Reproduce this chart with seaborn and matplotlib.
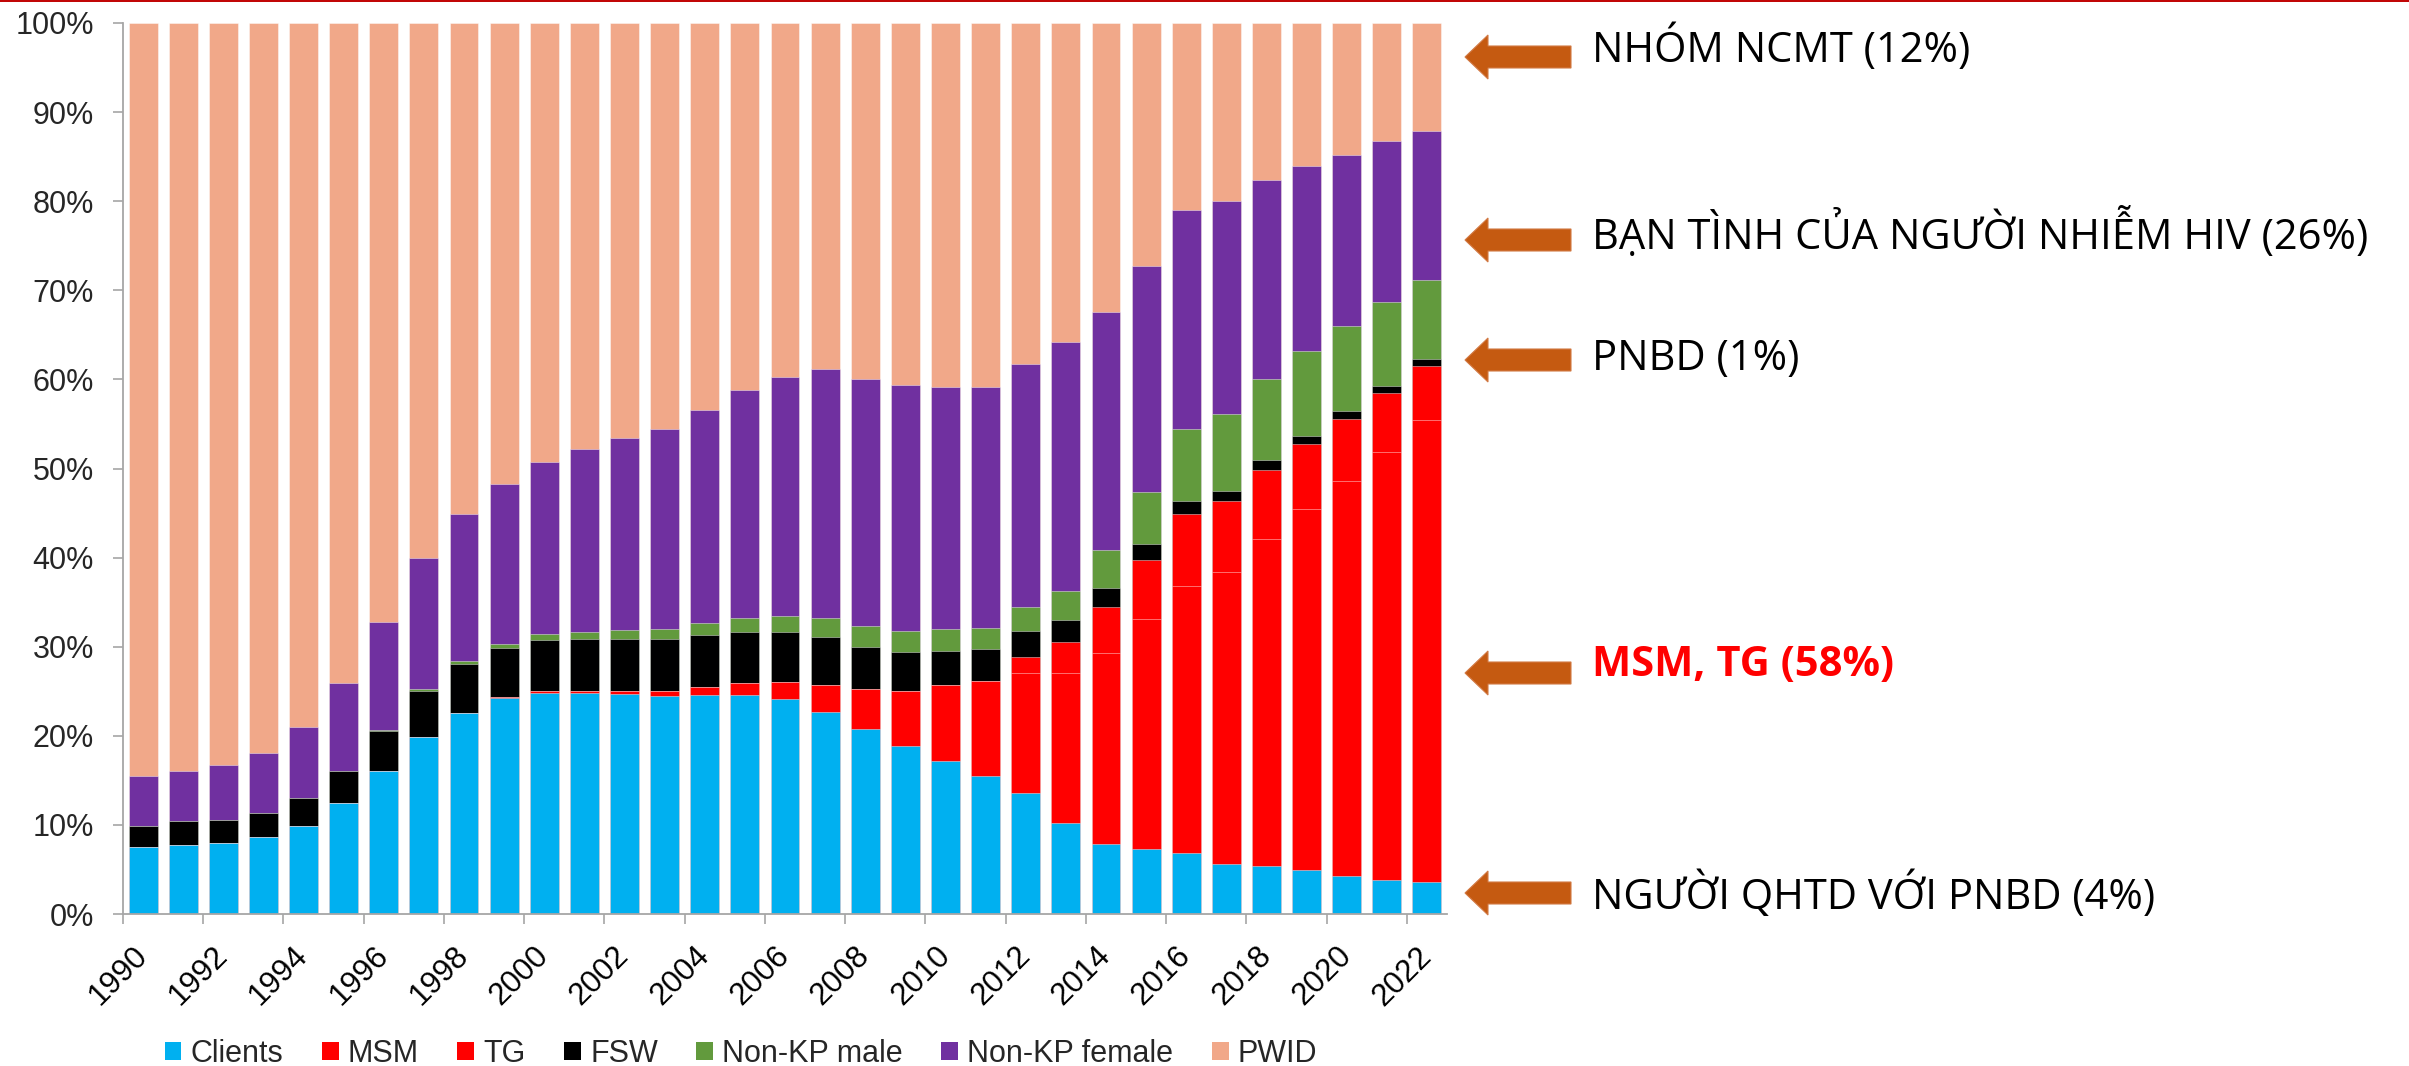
import numpy as np
import pandas as pd
import matplotlib
matplotlib.use("Agg")
import matplotlib.pyplot as plt
from matplotlib.patches import Patch, Polygon
from matplotlib.lines import Line2D
import seaborn as sns

# Share of new HIV infections by population group, 1990-2022 (%)
years = list(range(1990, 2023))
clients = [7.5, 7.8, 8.0, 8.6, 9.9, 12.5, 16.1, 19.9, 22.6, 24.2, 24.8, 24.8, 24.7, 24.5, 24.6, 24.6, 24.1,
           22.7, 20.8, 18.8, 17.2, 15.5, 13.6, 10.2, 7.9, 7.3, 6.8, 5.6, 5.4, 4.9, 4.3, 3.8, 3.6]
msm = [0, 0, 0, 0, 0, 0, 0, 0, 0, 0.1, 0.2, 0.2, 0.3, 0.5, 0.9, 1.3, 1.9,
       3.0, 4.4, 6.2, 8.5, 10.7, 13.4, 16.8, 21.4, 25.8, 30.0, 32.8, 36.7, 40.5, 44.3, 48.0, 51.8]
tg = [0, 0, 0, 0, 0, 0, 0, 0, 0, 0, 0, 0, 0, 0, 0, 0, 0,
      0, 0, 0, 0, 0, 1.8, 3.5, 5.2, 6.6, 8.1, 7.9, 7.7, 7.3, 7.0, 6.7, 6.1]
fsw = [2.4, 2.6, 2.6, 2.7, 3.1, 3.6, 4.4, 5.1, 5.5, 5.5, 5.7, 5.9, 5.9, 5.9, 5.8, 5.7, 5.6,
       5.4, 4.8, 4.4, 3.8, 3.5, 3.0, 2.5, 2.1, 1.8, 1.5, 1.2, 1.2, 1.0, 0.9, 0.8, 0.8]
nonkp_male = [0, 0, 0, 0, 0, 0, 0.1, 0.2, 0.3, 0.5, 0.7, 0.8, 1.0, 1.1, 1.4, 1.6, 1.9,
              2.1, 2.3, 2.4, 2.5, 2.4, 2.6, 3.2, 4.3, 5.9, 8.0, 8.6, 9.1, 9.5, 9.5, 9.4, 8.9]
nonkp_female = [5.6, 5.7, 6.1, 6.8, 8.0, 9.8, 12.2, 14.7, 16.5, 18.0, 19.3, 20.5, 21.5, 22.4, 23.9, 25.6, 26.8,
                28.0, 27.8, 27.6, 27.2, 27.0, 27.3, 28.0, 26.7, 25.3, 24.6, 23.9, 22.3, 20.7, 19.2, 18.1, 16.7]
pwid = [84.5, 83.9, 83.3, 81.9, 79.0, 74.1, 67.2, 60.1, 55.1, 51.7, 49.3, 47.8, 46.6, 45.6, 43.4, 41.2, 39.7,
        38.8, 39.9, 40.6, 40.8, 40.9, 38.3, 35.8, 32.4, 27.3, 21.0, 20.0, 17.6, 16.1, 14.8, 13.2, 12.1]

series_names = ["Clients", "MSM", "TG", "FSW", "Non-KP male", "Non-KP female", "PWID"]
series_colors = ["#00B0F0", "#FF0000", "#FF0000", "#000000", "#629A3D", "#7030A0", "#F1A889"]

# Callouts for the latest year
callout_texts = ["NHÓM NCMT (12%)", "BẠN TÌNH CỦA NGƯỜI NHIỄM HIV (26%)", "PNBD (1%)",
                 "MSM, TG (58%)", "NGƯỜI QHTD VỚI PNBD (4%)"]
callout_colors = ["black", "black", "black", "#FF0000", "black"]
callout_weights = ["normal", "normal", "normal", "bold", "normal"]

W, H = 2409, 1066
sns.set_theme(style="white")
plt.rcParams["font.family"] = ["Liberation Sans", "DejaVu Sans"]

fig = plt.figure(figsize=(W / 100, H / 100), dpi=100)
ax = fig.add_axes([123 / W, 1 - 914 / H, (1447 - 123) / W, (914 - 23) / H])

df = pd.DataFrame(dict(zip(series_names,
                           [clients, msm, tg, fsw, nonkp_male, nonkp_female, pwid])),
                  index=years)
cum = df.cumsum(axis=1)
labels = [str(y) for y in years]

# Stack by overlaying cumulative totals, tallest first
for name, color in reversed(list(zip(series_names, series_colors))):
    sns.barplot(x=labels, y=cum[name].values, color=color, saturation=1, width=0.72,
                errorbar=None, ax=ax, linewidth=0.6, edgecolor=(1, 1, 1, 0.5))

axis_gray = "#A6A6A6"
ax.set_xlim(-0.5, len(years) - 0.5)
ax.set_ylim(0, 100)
ax.set_yticks(np.arange(0, 101, 10))
ax.set_yticklabels([f"{v}%" for v in range(0, 101, 10)], fontsize=22)
ax.set_xticks(np.arange(0, len(years), 2))
ax.set_xticklabels(labels[::2], fontsize=22.5, rotation=45, ha="right", va="center",
                   rotation_mode="anchor")
ax.set_xticks(np.arange(-0.5, len(years) - 1, 2), minor=True)
ax.tick_params(axis="x", which="major", length=0, pad=27, colors="black")
ax.tick_params(axis="x", which="minor", bottom=True, length=7, width=1.2, color=axis_gray)
ax.tick_params(axis="y", which="major", left=True, length=7, width=1.2, color=axis_gray, pad=14)
ax.set_xlabel("")
ax.set_ylabel("")
for side in ["top", "right"]:
    ax.spines[side].set_visible(False)
for side in ["left", "bottom"]:
    ax.spines[side].set_color(axis_gray)
    ax.spines[side].set_linewidth(1.3)
ax.grid(False)

# Legend below the axis
handles = [Patch(facecolor=c, edgecolor="none") for c in series_colors]
fig.legend(handles, series_names, loc="center", bbox_to_anchor=(741 / W, 1 - 1054 / H),
           ncol=7, frameon=False, fontsize=22, handlelength=0.55, handleheight=0.55,
           handletextpad=0.3, columnspacing=1.26, borderaxespad=0)

# Arrows and callout text on the right
arrow_y = [57, 240, 360, 673, 893]
text_base = [62, 249, 370, 676, 909]
for yc, yb, txt, col, wt in zip(arrow_y, text_base, callout_texts, callout_colors, callout_weights):
    pts = [(1465, yc), (1488, yc - 22), (1488, yc - 11), (1571, yc - 11),
           (1571, yc + 11), (1488, yc + 11), (1488, yc + 22)]
    poly = Polygon([(x / W, 1 - y / H) for x, y in pts], closed=True,
                   transform=fig.transFigure, facecolor="#C55A11", edgecolor="#D27A45", lw=0.8)
    fig.add_artist(poly)
    fig.text(1592 / W, 1 - yb / H, txt, fontsize=30, color=col, fontweight=wt,
             ha="left", va="baseline", family=["Open Sans", "DejaVu Sans"])

# Thin rule along the top edge
fig.add_artist(Line2D([0, 1], [1 - 0.8 / H, 1 - 0.8 / H], transform=fig.transFigure,
                      color="#C00000", lw=1.4))

fig.savefig("out.png", dpi=100)
